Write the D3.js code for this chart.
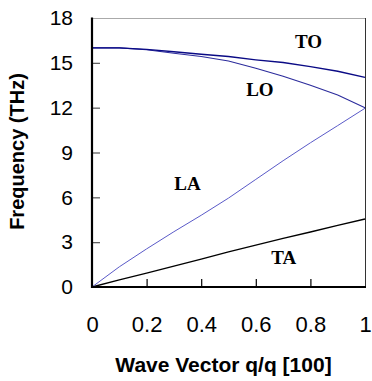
<!DOCTYPE html>
<html>
<head>
<meta charset="utf-8">
<script src="https://cdn.jsdelivr.net/npm/d3@7"></script>
<style>
  html, body { margin: 0; padding: 0; background: #fff; }
  svg { display: block; }
</style>
</head>
<body>
<svg id="chart" width="372" height="381"></svg>
<script>
// ---- data ----
const q = [0, 0.1, 0.2, 0.3, 0.4, 0.5, 0.6, 0.7, 0.8, 0.9, 1.0];
const TO = [16.0, 16.0, 15.9, 15.74, 15.57, 15.42, 15.2, 15.02, 14.75, 14.44, 14.03];
const LO = [16.0, 16.0, 15.88, 15.64, 15.42, 15.12, 14.64, 14.1, 13.5, 12.85, 12.0];
const LA = [0.0, 1.35, 2.55, 3.7, 4.8, 5.95, 7.2, 8.45, 9.65, 10.8, 11.96];
const TA = [0.0, 0.47, 0.93, 1.4, 1.87, 2.35, 2.8, 3.25, 3.68, 4.12, 4.55];
const xTicks = [0, 0.2, 0.4, 0.6, 0.8, 1];
const yTicks = [0, 3, 6, 9, 12, 15, 18];
const branchLabels = [
  { text: "TO", q: 0.793, f: 16.0 },
  { text: "LO", q: 0.615, f: 12.78 },
  { text: "LA", q: 0.35, f: 6.46 },
  { text: "TA", q: 0.702, f: 1.54 }
];

const svg = d3.select("#chart");
const L = 92, R = 365, T = 18, B = 287;
const x = d3.scaleLinear().domain([0, 1]).range([L, R]);
const y = d3.scaleLinear().domain([0, 18]).range([B, T]);

// frame: top & right thin
svg.append("line").attr("x1", L).attr("x2", R).attr("y1", T + 0.5).attr("y2", T + 0.5)
  .attr("stroke", "#aaa").attr("stroke-width", 1);
svg.append("line").attr("x1", R + 0.5).attr("x2", R + 0.5).attr("y1", T).attr("y2", B)
  .attr("stroke", "#333").attr("stroke-width", 1);

// y axis ticks (inward)
const yAxis = d3.axisLeft(y).tickValues(yTicks).tickSizeInner(-8).tickSizeOuter(0).tickPadding(19);
const gy = svg.append("g").attr("transform", `translate(${L},0)`).call(yAxis);
gy.select(".domain").remove();
gy.selectAll(".tick line").attr("stroke", "#555").attr("stroke-width", 1.2)
  .filter(d => d === 0 || d === 18).remove();
gy.selectAll(".tick text").attr("font-family", "Arial, 'Liberation Sans', sans-serif")
  .attr("font-size", 21).attr("fill", "#000");

// x axis ticks (inward)
const xAxis = d3.axisBottom(x).tickValues(xTicks).tickSizeInner(-8).tickSizeOuter(0)
  .tickPadding(0).tickFormat(d => d === 0 ? "0" : d === 1 ? "1" : d3.format(".1f")(d));
const gx = svg.append("g").attr("transform", `translate(0,${B})`).call(xAxis);
gx.select(".domain").remove();
gx.selectAll(".tick line").attr("stroke", "#000").attr("stroke-width", 1.2)
  .filter(d => d === 0 || d === 1).remove();
gx.selectAll(".tick text").attr("font-family", "Arial, 'Liberation Sans', sans-serif")
  .attr("font-size", 22).attr("fill", "#000").attr("dy", null).attr("y", 45);

// curves
const line = (arr) => d3.line().x((d, i) => x(q[i])).y(d => y(d))(arr);
const series = [
  { data: TA, color: "#000000", w: 1.3 },
  { data: LA, color: "#5a5ac8", w: 1 },
  { data: LO, color: "#2b2b9c", w: 1.1 },
  { data: TO, color: "#0a0a85", w: 1.4 }
];
svg.append("g").attr("fill", "none").selectAll("path").data(series).join("path")
  .attr("d", s => line(s.data)).attr("stroke", s => s.color).attr("stroke-width", s => s.w);

// left & bottom axis lines (thick)
svg.append("line").attr("x1", L).attr("x2", L).attr("y1", T - 0.5).attr("y2", B + 1)
  .attr("stroke", "#000").attr("stroke-width", 2.2);
svg.append("line").attr("x1", L - 1).attr("x2", R + 1).attr("y1", B).attr("y2", B)
  .attr("stroke", "#000").attr("stroke-width", 2.2);

// branch labels
svg.append("g").selectAll("text").data(branchLabels).join("text")
  .attr("x", d => x(d.q)).attr("y", d => y(d.f))
  .attr("text-anchor", "middle")
  .attr("font-family", "'Times New Roman', 'Liberation Serif', serif")
  .attr("font-weight", "bold").attr("font-size", 19).attr("fill", "#000")
  .text(d => d.text);

// axis titles
svg.append("text").attr("x", (L + R) / 2 - 5).attr("y", 372)
  .attr("text-anchor", "middle")
  .attr("font-family", "Arial, 'Liberation Sans', sans-serif")
  .attr("font-weight", "bold").attr("font-size", 21)
  .text("Wave Vector q/q [100]");
svg.append("text")
  .attr("transform", `translate(24,${(T + B) / 2 - 1}) rotate(-90)`)
  .attr("text-anchor", "middle")
  .attr("font-family", "Arial, 'Liberation Sans', sans-serif")
  .attr("font-weight", "bold").attr("font-size", 20)
  .text("Frequency (THz)");
</script>
</body>
</html>
